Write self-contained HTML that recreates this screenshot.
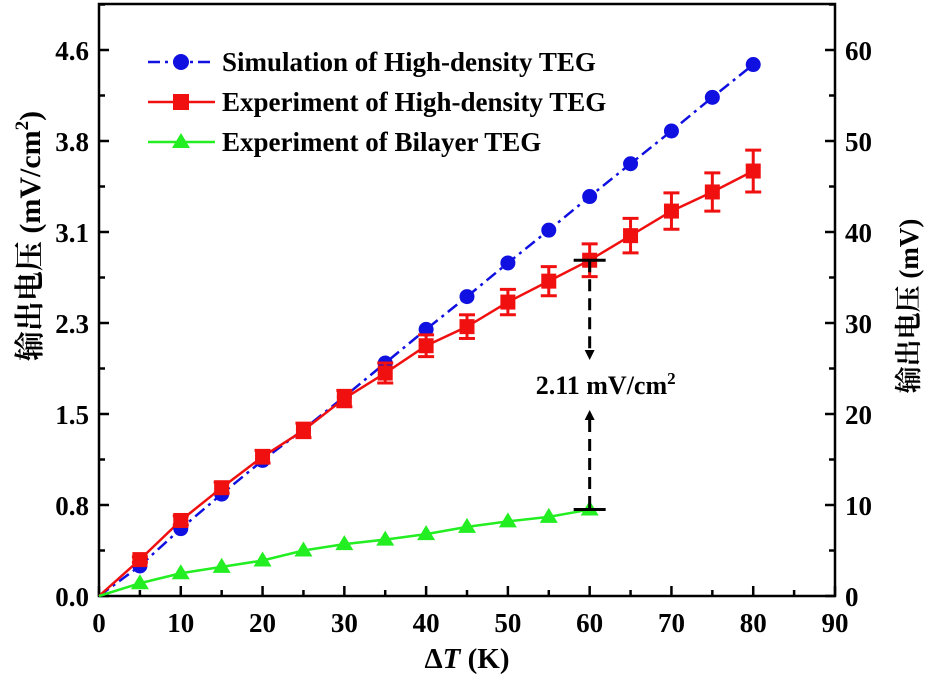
<!DOCTYPE html>
<html><head><meta charset="utf-8"><style>
html,body{margin:0;padding:0;background:#fff;}
svg{display:block;font-family:"Liberation Serif","Noto Serif CJK SC",serif;font-weight:bold;}
</style></head><body>
<svg id="c" width="933" height="675" viewBox="0 0 933 675"></svg>
<script>
const xs=[5,10,15,20,25,30,35,40,45,50,55,60,65,70,75,80];
const simV=[3.3,7.4,11.2,14.9,18.3,21.9,25.6,29.3,32.9,36.6,40.2,43.9,47.5,51.1,54.8,58.4];
const expV=[4.0,8.3,11.9,15.3,18.2,21.7,24.5,27.5,29.6,32.3,34.6,36.9,39.6,42.3,44.4,46.7];
const expErr=[0.3,0.5,0.6,0.7,0.8,0.9,1.1,1.2,1.3,1.4,1.6,1.8,1.9,2.0,2.1,2.3];
const bxs=[5,10,15,20,25,30,35,40,45,50,55,60];
const bilV=[1.4,2.5,3.2,3.9,5.0,5.7,6.2,6.8,7.6,8.2,8.7,9.5];
const xTicks=[0,10,20,30,40,50,60,70,80,90];
const rTicks=[0,10,20,30,40,50,60];
const lLabels=["0.0","0.8","1.5","2.3","3.1","3.8","4.6"];
const X0=99,X1=835,Y0=596,Y1=4;
const x=v=>X0+(v/90)*(X1-X0);
const y=v=>Y0-v*9.1;
const s=document.getElementById('c');const NS='http://www.w3.org/2000/svg';
function E(t,a,p){const e=document.createElementNS(NS,t);for(const k in a)e.setAttribute(k,a[k]);(p||s).appendChild(e);return e;}
function T(txt,a,name){const e=E('text',a);e.textContent=txt;

return e;}
const fr=E('rect',{x:X0,y:Y1,width:X1-X0,height:Y0-Y1,fill:'none',stroke:'#000','stroke-width':2.5});


xTicks.forEach((v,i)=>{E('line',{x1:x(v),x2:x(v),y1:Y0,y2:Y0-10,stroke:'#000','stroke-width':2.5});
 if(i<xTicks.length-1)E('line',{x1:x(v+5),x2:x(v+5),y1:Y0,y2:Y0-6,stroke:'#000','stroke-width':2.5});
 T(String(v),{x:x(v),y:Y0+36,'text-anchor':'middle','font-size':27},'x-tick-label');});
rTicks.forEach((v,i)=>{
 E('line',{x1:X0,x2:X0+10,y1:y(v),y2:y(v),stroke:'#000','stroke-width':2.5});
 E('line',{x1:X1,x2:X1-10,y1:y(v),y2:y(v),stroke:'#000','stroke-width':2.5});
 E('line',{x1:X0,x2:X0+6,y1:y(v+5),y2:y(v+5),stroke:'#000','stroke-width':2.5});
 E('line',{x1:X1,x2:X1-6,y1:y(v+5),y2:y(v+5),stroke:'#000','stroke-width':2.5});
 T(lLabels[i],{x:X0-10,y:y(v)+10,'text-anchor':'end','font-size':27},'left-tick-label');
 T(String(v),{x:X1+10,y:y(v)+10,'text-anchor':'start','font-size':27},'right-tick-label');});
const xt=E('text',{x:467,y:668,'text-anchor':'middle','font-size':29});
xt.innerHTML='Δ<tspan font-style="italic">T</tspan> (K)';


const lt=E('text',{transform:'translate(40,236) rotate(-90)','text-anchor':'middle','font-size':30});
lt.innerHTML='输出电压 (mV/cm<tspan dy="-12" font-size="19">2</tspan><tspan dy="12">)</tspan>';


const rt=E('text',{transform:'translate(918,306) rotate(-90)','text-anchor':'middle','font-size':27});
rt.textContent='输出电压 (mV)';


const pts=(xa,ya)=>[[x(0),y(0)]].concat(xa.map((v,i)=>[x(v),y(ya[i])])).map(p=>p.join(',')).join(' ');
const l1=E('polyline',{points:pts(xs,simV),fill:'none',stroke:'#1010e0','stroke-width':2.5,'stroke-dasharray':'12,5,3,5'});


const l2=E('polyline',{points:pts(xs,expV),fill:'none',stroke:'#f01010','stroke-width':2.5});


const l3=E('polyline',{points:pts(bxs,bilV),fill:'none',stroke:'#22ee22','stroke-width':2.5});


xs.forEach((v,i)=>{
 const c=E('circle',{cx:x(v),cy:y(simV[i]),r:7.5,fill:'#1010e0'});
 
 
 const g=E('g',{stroke:'#f01010','stroke-width':3});
 
 
 const a=y(expV[i]+expErr[i]),b=y(expV[i]-expErr[i]);
 E('line',{x1:x(v),x2:x(v),y1:a,y2:b},g);E('line',{x1:x(v)-8,x2:x(v)+8,y1:a,y2:a},g);E('line',{x1:x(v)-8,x2:x(v)+8,y1:b,y2:b},g);
 const r=E('rect',{x:x(v)-7.5,y:y(expV[i])-7.5,width:15,height:15,fill:'#f01010'});
 
 });
bxs.forEach((v,i)=>{const cx=x(v),cy=y(bilV[i]);
 const p=E('polygon',{points:`${cx},${cy-9} ${cx-9},${cy+6} ${cx+9},${cy+6}`,fill:'#22ee22'});
 
 });
const ax=x(60),ya=y(expV[11]),yb=y(bilV[11]);
const an=E('g',{stroke:'#000','stroke-width':3});


E('line',{x1:ax-16,x2:ax+16,y1:ya,y2:ya},an);E('line',{x1:ax-16,x2:ax+16,y1:yb,y2:yb},an);
E('line',{x1:ax,x2:ax,y1:ya,y2:350,'stroke-dasharray':'12,7'},an);
E('line',{x1:ax,x2:ax,y1:420,y2:yb,'stroke-dasharray':'12,7'},an);
E('polygon',{points:`${ax-5},350 ${ax+5},350 ${ax},360`,fill:'#000',stroke:'none'},an);
E('polygon',{points:`${ax-5},420 ${ax+5},420 ${ax},410`,fill:'#000',stroke:'none'},an);
const at=E('text',{x:ax+16,y:394,'text-anchor':'middle','font-size':26});
at.innerHTML='2.11 mV/cm<tspan dy="-10" font-size="17">2</tspan>';


const leg=[['Simulation of High-density TEG','#1010e0','c',true],['Experiment of High-density TEG','#f01010','s',false],['Experiment of Bilayer TEG','#22ee22','t',false]];
leg.forEach((L,i)=>{const yy=62+i*40;
 const g=E('g',{});
 
 
 E('line',{x1:148,x2:215,y1:yy,y2:yy,stroke:L[1],'stroke-width':2.5,'stroke-dasharray':L[3]?'12,5,3,5':'none'},g);
 if(L[2]=='c')E('circle',{cx:181,cy:yy,r:8,fill:L[1]},g);
 if(L[2]=='s')E('rect',{x:173,y:yy-8,width:16,height:16,fill:L[1]},g);
 if(L[2]=='t')E('polygon',{points:`181,${yy-9} 172,${yy+6} 190,${yy+6}`,fill:L[1]},g);
 const t=E('text',{x:222,y:yy+9,'font-size':27},g);t.textContent=L[0];});
</script>
</body></html>
